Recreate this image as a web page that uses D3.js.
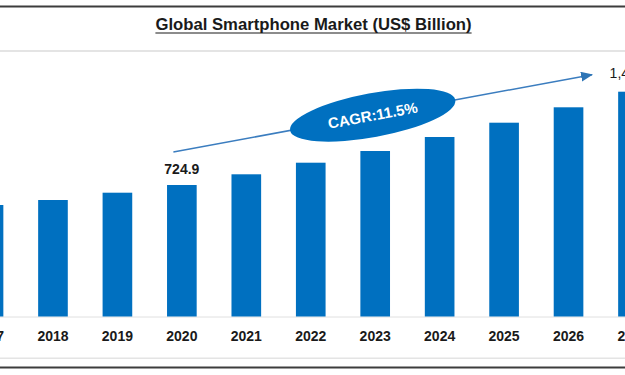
<!DOCTYPE html>
<html>
<head>
<meta charset="utf-8">
<script src="https://cdn.jsdelivr.net/npm/d3@7"></script>
<style>
body { margin: 0; background: #fff; }
svg { display: block; font-family: "Liberation Sans", Arial, sans-serif; }
</style>
</head>
<body>
<svg width="625" height="375"></svg>
<script>
var titleText = "Global Smartphone Market (US$ Billion)";
var years = ["2017", "2018", "2019", "2020", "2021", "2022", "2023", "2024", "2025", "2026", "2027"];
var marketSize = [569.5, 608.3, 665.1, 724.9, 808.1, 898.2, 989.1, 1097.9, 1209.1, 1328.8, 1450.0];
var labelYears = ["2020", "2027"];
var labelTexts = ["724.9", "1,450.0"];
var cagrText = "CAGR:11.5%";

var svg = d3.select("svg"),
    width = +svg.attr("width"),
    height = +svg.attr("height");

var blue = "#0070c0";

// the picture is cropped: first and last bars run off the edges
var x = d3.scaleBand()
    .domain(years)
    .range([-43.7, 665.2])
    .paddingInner(0.54)
    .paddingOuter(0.27);

// axis floor is not zero in the original picture
var y = d3.scaleLinear()
    .domain([-297, 1450])
    .range([316.5, 91.7]);

// frame lines
svg.append("rect").attr("x", 0).attr("y", 5.5).attr("width", width).attr("height", 2).attr("fill", "#3c3c3c");
svg.append("rect").attr("x", 0).attr("y", 50).attr("width", width).attr("height", 2).attr("fill", "#e4e4e4");
svg.append("rect").attr("x", 0).attr("y", 357.5).attr("width", width).attr("height", 1.5).attr("fill", "#e4e4e4");
svg.append("rect").attr("x", 0).attr("y", 366.5).attr("width", width).attr("height", 2).attr("fill", "#3c3c3c");

// title with underline
var title = svg.append("text")
    .attr("x", 313.5)
    .attr("y", 30)
    .attr("text-anchor", "middle")
    .attr("font-size", 16.7)
    .attr("font-weight", "bold")
    .attr("fill", "#1a1a1a")
    .text(titleText);
var tb = title.node().getBBox();
svg.append("line")
    .attr("x1", tb.x).attr("x2", tb.x + tb.width)
    .attr("y1", 33).attr("y2", 33)
    .attr("stroke", "#1a1a1a")
    .attr("stroke-width", 1.2);

// faint baseline
svg.append("line")
    .attr("x1", 0).attr("x2", width)
    .attr("y1", y.range()[0] + 0.5).attr("y2", y.range()[0] + 0.5)
    .attr("stroke", "#e0e0e0");

// bars
svg.append("g")
  .selectAll("rect")
  .data(years)
  .enter().append("rect")
    .attr("x", function(d) { return x(d); })
    .attr("width", x.bandwidth())
    .attr("y", function(d, i) { return y(marketSize[i]); })
    .attr("height", function(d, i) { return y.range()[0] - y(marketSize[i]); })
    .attr("fill", blue);

// year labels
var xAxis = svg.append("g")
    .attr("transform", "translate(0," + y.range()[0] + ")")
    .call(d3.axisBottom(x).tickSize(0).tickPadding(14.5));
xAxis.select(".domain").remove();
xAxis.selectAll("text")
    .attr("font-family", "Liberation Sans, Arial, sans-serif")
    .attr("font-size", 14)
    .attr("font-weight", "bold")
    .attr("fill", "#1a1a1a");

// value labels
svg.append("g")
  .selectAll("text")
  .data(labelYears)
  .enter().append("text")
    .attr("x", function(d) { return x(d) + x.bandwidth() / 2; })
    .attr("y", function(d) { return y(marketSize[years.indexOf(d)]) - (d === "2020" ? 11.5 : 13.5); })
    .attr("text-anchor", "middle")
    .attr("font-size", 14)
    .attr("font-weight", function(d, i) { return i === 0 ? "bold" : "normal"; })
    .attr("fill", "#1a1a1a")
    .text(function(d, i) { return labelTexts[i]; });

// CAGR arrow
var defs = svg.append("defs");
defs.append("marker")
    .attr("id", "head")
    .attr("markerUnits", "userSpaceOnUse")
    .attr("viewBox", "0 0 12 10")
    .attr("refX", 11).attr("refY", 5)
    .attr("markerWidth", 12).attr("markerHeight", 10)
    .attr("orient", "auto")
  .append("path")
    .attr("d", "M0,0L12,5L0,10Z")
    .attr("fill", "#2e75b6");

var a0 = [x("2020") + x.bandwidth() / 2 - 8.5, y(marketSize[3]) - 33];
var a1 = [x("2026") + x.bandwidth() / 2 + 23.5, y(marketSize[10]) - 17];
svg.append("line")
    .attr("x1", a0[0]).attr("y1", a0[1])
    .attr("x2", a1[0]).attr("y2", a1[1])
    .attr("stroke", "#3b7dbf")
    .attr("stroke-width", 1.5)
    .attr("marker-end", "url(#head)");

var ang = Math.atan2(a1[1] - a0[1], a1[0] - a0[0]) * 180 / Math.PI;
var cx = x("2023") + x.bandwidth() / 2 - 2.5;
var cy = a0[1] + (cx - a0[0]) * (a1[1] - a0[1]) / (a1[0] - a0[0]);
var badge = svg.append("g")
    .attr("transform", "translate(" + cx + "," + cy + ") rotate(" + ang + ")");
badge.append("ellipse")
    .attr("rx", 84).attr("ry", 22)
    .attr("fill", blue);
badge.append("text")
    .attr("y", 5.5)
    .attr("text-anchor", "middle")
    .attr("font-size", 15)
    .attr("font-weight", "bold")
    .attr("fill", "#fff")
    .text(cagrText);
</script>
</body>
</html>
